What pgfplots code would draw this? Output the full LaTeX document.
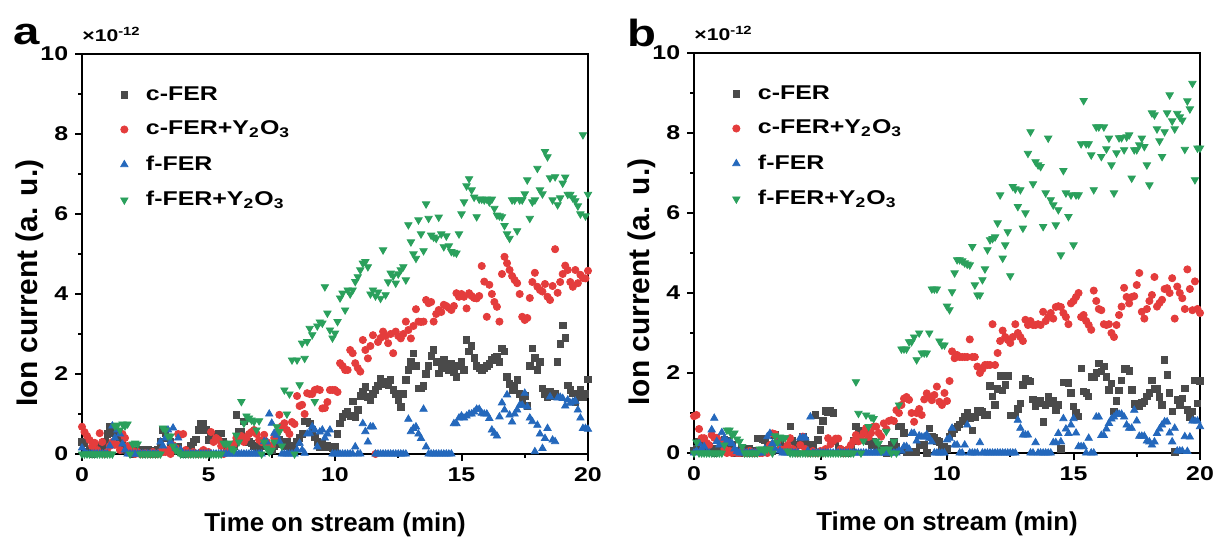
\documentclass[border=0pt]{standalone}
\usepackage{fontspec}
\setmainfont{Liberation Sans}
\usepackage{graphicx}
\usepackage{pgfplots}
\usepackage{pgfplotstable}
\pgfplotsset{compat=1.18}
\newcommand{\sx}[1]{\scalebox{1.25}[1]{#1}}
\definecolor{cgray}{RGB}{74,74,74}
\definecolor{cred}{RGB}{228,60,60}
\definecolor{cblue}{RGB}{36,104,188}
\definecolor{cgreen}{RGB}{42,160,92}

\pgfplotstableread{
t c cy f fy
0.0 0.3 0.68 0.15 0
0.1 0.28 0.55 0.05 0
0.2 0.06 0.45 0 0
0.3 0.1 0.35 0 0
0.4 0.0 0.2 0 0
0.5 0.05 0.28 0 0
0.6 0.1 0.1 0 0
0.7 0.2 0.52 0 0
0.8 0.15 0.3 0 0
0.9 0.3 0.0 0 0
1.0 0.5 0.05 0 0
1.1 0.68 0.2 0.2 0
1.2 0.52 0.3 0.7 0
1.3 0.6 0.23 0.4 0.7
1.4 0.45 0.23 0.6 0.72
1.5 0.43 0.1 0.5 0.6
1.6 0.3 0.5 0.25 0.75
1.7 0.1 0.4 0.1 0.7
1.8 0.05 0.2 0 0.75
1.9 0.1 0.08 0 0
2.0 0.0 0.08 0 0.25
2.1 0.05 0.0 0 0.27
2.2 0.08 0.05 0 0.25
2.3 0.1 0.0 0 0
2.4 0.08 0.0 0 0
2.5 0.05 0.02 0 0
2.6 0.1 0.0 0 0
2.7 0.08 0.0 0 0
2.8 0.0 0.05 0 0
2.9 0.05 0.0 0 0
3.0 0.1 0.0 0 0
3.1 0.3 0.05 0.3 0
3.2 0.6 0.05 0.2 0.65
3.3 0.52 0.05 0.4 0.6
3.4 0.39 0.1 0.6 0.45
3.5 0.3 0.0 0.3 0.45
3.6 0.1 0.22 0.65 0.2
3.7 0.18 0.15 0.15 0.1
3.8 0.18 0.5 0.4 0.05
3.9 0.05 0.48 0.1 0
4.0 0.0 0.5 0 0
4.1 0.05 0.1 0 0
4.2 0.1 0.0 0 0
4.3 0.2 0.0 0 0
4.4 0.3 0.05 0 0
4.5 0.37 0.0 0 0
4.6 0.6 0.0 0 0
4.7 0.77 0.05 0 0
4.8 0.77 0.1 0 0
4.9 0.6 0.0 0 0
5.0 0.35 0.05 0 0
5.1 0.43 0.55 0 0
5.2 0.45 0.3 0 0
5.3 0.47 0.4 0 0
5.4 0.52 0.35 0 0
5.5 0.52 0.2 0 0
5.6 0.3 0.0 0 0.27
5.7 0.18 0.05 0 0.25
5.8 0.1 0.1 0 0.27
5.9 0.15 0.2 0 0.14
6.0 0.2 0.25 0 0.1
6.1 0.98 0.4 0 0.47
6.2 0.55 0.35 0 0.3
6.3 0.55 0.45 0 1.31
6.4 0.81 0.3 0 0.77
6.5 0.39 0.4 0 0.95
6.6 0.3 0.5 0 0.9
6.7 0.27 0.55 0 0.85
6.8 0.2 0.6 0 0.81
6.9 0.15 0.5 0 0.6
7.0 0.18 0.35 0 0.83
7.1 0.2 0.3 0 0
7.2 0.3 0.48 0.31 0.3
7.3 0.25 0.3 0.3 0.15
7.4 0.15 0.2 1.0 0.05
7.5 0.1 0.2 0.77 0.1
7.6 0.2 0.4 0.52 0.3
7.7 0.3 0.5 0.47 0.68
7.8 0.35 0.98 0.31 0.56
7.9 0.25 0.7 0 0.2
8.0 0.2 0.77 0 1.6
8.1 0.31 0.6 0 1.0
8.2 0.15 0.5 0 1.5
8.3 0.1 0.8 0 2.35
8.4 0.2 0.75 0 0
8.5 0.3 1.45 0.1 2.35
8.6 0.4 1.2 0.27 1.73
8.7 0.5 1.23 0.1 2.77
8.8 0.81 1.0 0.02 2.39
8.9 0.81 1.52 0.5 2.81
9.0 0.77 1.5 0.52 3.14
9.1 0.6 1.5 0.68 2.98
9.2 0.43 1.6 0.6 1.31
9.3 0.3 1.62 0.18 3.2
9.4 0.18 1.6 0.55 3.3
9.5 0.25 1.14 0.6 3.27
9.6 0.18 1.15 0.4 4.18
9.7 0.2 1.3 0.5 3.52
9.8 0.18 1.6 0.6 3.1
9.9 0.15 1.6 0 2.9
10.0 0.18 1.6 0 3.02
10.1 0.5 1.55 0 3.31
10.2 0.76 2.27 0 3.9
10.3 0.93 2.2 0 4.02
10.4 1.0 2.1 0 3.6
10.5 1.06 2.1 0 4.1
10.6 0.95 2.6 0 4.0
10.7 1.31 2.52 0 4.1
10.8 0.93 2.27 0.18 4.31
10.9 1.1 2.15 0 4.43
11.0 1.45 2.06 0 4.6
11.1 1.55 2.85 0.76 4.77
11.2 1.68 2.6 0.56 4.81
11.3 1.43 2.39 0.3 4.68
11.4 1.35 2.7 0.68 4.0
11.5 1.5 2.97 0.68 4.1
11.6 1.6 0.0 0 3.95
11.7 1.7 2.8 0 4.05
11.8 1.89 2.9 0 3.89
11.9 1.75 3.06 0 5.1
12.0 1.8 2.95 0 3.98
12.1 1.72 2.77 0 4.3
12.2 1.85 3.0 0 4.52
12.3 1.6 2.52 0 4.45
12.4 1.5 3.06 0 4.27
12.5 1.35 2.95 0 4.5
12.6 1.18 2.89 0 4.6
12.7 1.5 3.0 0 4.68
12.8 1.85 3.31 0 4.35
12.9 2.1 3.1 0.87 5.73
13.0 2.3 2.89 0.56 5.3
13.1 2.52 3.2 0.64 5.0
13.2 2.2 3.62 0.68 4.89
13.3 1.64 3.31 0.5 5.85
13.4 1.64 3.3 0.39 5.5
13.5 1.7 3.31 1.12 5.08
13.6 2.0 3.85 0.18 6.25
13.7 2.2 3.77 0 5.89
13.8 2.45 3.8 0 5.47
13.9 2.6 3.31 0 5.42
14.0 2.3 3.5 0 5.39
14.1 2.02 3.6 0 5.92
14.2 2.15 3.55 0 5.5
14.3 2.35 3.73 0 5.18
14.4 2.2 3.7 0 5.45
14.5 2.1 3.65 0 5.2
14.6 2.25 3.6 0 5.06
14.7 2.05 3.7 0.76 5.04
14.8 1.93 4.02 0.76 5.02
14.9 2.2 3.93 0.9 5.5
15.0 2.3 4.0 0.95 6.0
15.1 2.1 3.93 0.9 6.3
15.2 2.85 3.64 0.95 6.7
15.3 2.56 4.02 1.0 6.88
15.4 2.7 3.95 1.0 6.6
15.5 2.4 3.9 1.05 6.42
15.6 2.2 3.89 1.12 5.93
15.7 2.15 3.95 1.12 6.37
15.8 2.1 4.7 1.02 6.37
15.9 2.15 4.31 1.0 6.35
16.0 2.2 3.43 1.0 6.37
16.1 2.25 4.23 0.89 6.3
16.2 2.35 4.0 0.6 6.37
16.3 2.4 3.8 0.52 6.14
16.4 2.43 3.68 0.45 5.97
16.5 2.3 3.31 0.93 5.95
16.6 2.64 4.5 1.28 5.93
16.7 2.56 4.93 1.1 5.71
16.8 1.93 4.77 1.48 5.5
16.9 1.75 4.6 0.975 5.39
17.0 1.6 4.45 0.8 6.35
17.1 1.7 4.35 1.0 6.35
17.2 1.85 4.27 1.1 5.58
17.3 1.5 4.0 1.22 6.35
17.4 1.31 3.43 1.22 6.35
17.5 1.45 3.35 1.52 6.5
17.6 1.2 3.4 1.18 6.85
17.7 2.2 3.9 0.9 5.89
17.8 2.64 4.3 0.81 6.3
17.9 2.4 4.53 0.06 6.35
18.0 2.1 4.18 0.72 7.14
18.1 2.3 4.1 0.5 6.6
18.2 1.64 4.06 0.14 6.5
18.3 1.5 4.25 0.39 7.56
18.4 1.43 3.93 0.64 7.43
18.5 1.55 3.85 1.43 6.9
18.6 1.45 4.2 0.35 6.35
18.7 1.5 5.12 0.31 6.93
18.8 2.3 4.03 1.4 6.23
18.9 2.75 4.3 1.42 6.4
19.0 3.22 4.5 1.39 6.77
19.1 2.9 4.71 1.2 6.92
19.2 1.72 4.6 1.35 6.49
19.3 1.6 4.3 1.27 6.49
19.4 1.52 4.18 1.3 6.4
19.5 1.3 4.6 1.32 6.33
19.6 1.43 4.27 1.1 6.2
19.7 1.6 4.48 0.9 6.0
19.8 1.43 4.4 0.64 7.98
19.9 1.5 4.39 0.64 5.95
20.0 1.87 4.58 0.62 6.49
}\dataA

\pgfplotstableread{
t c cy f fy
0.0 0.05 0.92 0 0
0.1 0.1 0.95 0.05 0.27
0.2 0.28 0.6 0.24 0
0.3 0.28 0.37 0.1 0
0.4 0.2 0.37 0.16 0
0.5 0.16 0.25 0 0
0.6 0.16 0.2 0 0
0.7 0.1 0.45 0.58 0
0.8 0.0 0.38 0.87 0
0.9 0.05 0.38 0.29 0
1.0 0.1 0.3 0.2 0
1.1 0.2 0.26 0.51 0
1.2 0.33 0.1 0.37 0.2
1.3 0.3 0.0 0.3 0.57
1.4 0.24 0.05 0.27 0.57
1.5 0.2 0.0 0.24 0.45
1.6 0.0 0.05 0.1 0.5
1.7 0.05 0.0 0.04 0.35
1.8 0.0 0.0 0 0.29
1.9 0.1 0.05 0 0.16
2.0 0.05 0 0 0
2.1 0.0 0 0 0
2.2 0.1 0.05 0 0
2.3 0.0 0 0 0
2.4 0.05 0 0 0
2.5 0.37 0.02 0 0
2.6 0.37 0 0 0.1
2.7 0.35 0 0 0.1
2.8 0.33 0.05 0.1 0.05
2.9 0.2 0 0.41 0.1
3.0 0.1 0.2 0.49 0.1
3.1 0.05 0.49 0.24 0
3.2 0.45 0.47 0.1 0.43
3.3 0.3 0.29 0.24 0.27
3.4 0.29 0.1 0.05 0.4
3.5 0.1 0.05 0 0.38
3.6 0.05 0.1 0 0.38
3.7 0.15 0.2 0 0.05
3.8 0.67 0.37 0 0
3.9 0.3 0.1 0 0
4.0 0.2 0.05 0 0
4.1 0.2 0.0 0 0
4.2 0.24 0.2 0.38 0
4.3 0.41 0.41 0.38 0
4.4 0.3 0.1 0.38 0
4.5 0.1 0.0 0.05 0
4.6 0.05 0.0 0.9 0
4.7 0.2 0.05 0 0
4.8 0.95 0.0 0 0
4.9 0.33 0.0 0 0
5.0 0.58 0.05 0 0
5.1 0.8 0.0 0 0
5.2 1.05 0.1 0 0
5.3 1.02 0.37 0 0
5.4 1.05 0.22 0 0
5.5 1.0 0.3 0 0
5.6 0.3 0.36 0 0
5.7 0.1 0.36 0 0
5.8 0.05 0.1 0 0
5.9 0.0 0.0 0 0
6.0 0.0 0.05 0 0
6.1 0.05 0.1 0 0
6.2 0.1 0.2 0 0
6.3 0.3 0.3 0 0
6.4 0.66 0.45 0 1.78
6.5 0.54 0.29 0 0.99
6.6 0.5 0.37 0 0
6.7 0.55 0.5 0 0.3
6.8 0.55 0.62 0 0.95
6.9 0.3 0.4 0 0.66
7.0 0.2 0.5 0 0.9
7.1 0.29 0.66 0 0.86
7.2 0.1 0.66 0 0.3
7.3 0.05 0.5 0 0.24
7.4 0.1 0.41 0 0.05
7.5 0.05 0.74 0 0.1
7.6 0.0 0.6 0 0.54
7.7 0.1 0.8 0 0.1
7.8 0.2 0.82 0 0
7.9 0.29 0.8 0 0.29
8.0 0.16 1.07 0 0
8.1 0.66 1.0 0.05 1.2
8.2 0.66 1.2 0.05 2.6
8.3 0.5 1.36 0.16 2.6
8.4 0.03 1.4 0.16 2.6
8.5 0.03 1.33 0.1 2.78
8.6 0.03 1.0 0.49 2.78
8.7 0.03 0.78 0.49 2.9
8.8 0.03 1.0 0.3 2.33
8.9 0.2 1.1 0.43 3.0
9.0 0.2 0.95 0.4 2.5
9.1 0.2 1.34 0.4 2.5
9.2 0.0 1.49 0.46 2.5
9.3 0.62 1.4 0.37 3.0
9.4 0.4 1.32 0.28 4.1
9.5 0.38 1.45 0 4.1
9.6 0.3 1.66 0 4.1
9.7 0.28 1.28 0 2.8
9.8 0.15 1.2 0 2.7
9.9 0.15 1.5 0 2.7
10.0 0.1 1.3 0.33 3.67
10.1 0.41 1.8 0.37 3.58
10.2 0.49 2.54 0.62 4.03
10.3 0.6 2.37 0.2 4.5
10.4 0.65 2.45 0.2 4.83
10.5 0.72 2.4 0 4.83
10.6 0.8 2.4 0 4.8
10.7 0.9 2.4 0.2 4.75
10.8 1.0 2.4 0.7 4.72
10.9 0.87 2.84 0 4.7
11.0 0.57 2.4 0 5.16
11.1 0.9 2.4 0 4.2
11.2 1.07 2.16 0 3.95
11.3 1.05 2.0 0.26 3.95
11.4 1.03 2.1 0 4.33
11.5 0.95 2.2 0 4.6
11.6 0.95 2.2 0 5.08
11.7 1.68 2.2 0 5.33
11.8 1.42 3.22 0 5.36
11.9 1.2 2.2 0 5.4
12.0 1.6 2.5 0 5.75
12.1 1.93 2.8 0 6.45
12.2 1.56 3.06 0 4.87
12.3 1.7 2.9 0 5.2
12.4 1.93 2.83 0 5.53
12.5 0.94 2.75 0 4.43
12.6 0.94 2.9 0 6.66
12.7 0.94 3.22 0 6.6
12.8 1.1 3.0 0.82 6.16
12.9 1.24 2.9 0.62 6.58
13.0 1.7 2.8 0.45 5.62
13.1 1.85 3.33 0.45 6.0
13.2 1.82 3.2 0.45 7.49
13.3 1.79 3.3 0 8.03
13.4 1.34 3.2 0 6.73
13.5 1.16 3.2 0.26 7.28
13.6 1.25 3.22 0 7.2
13.7 1.3 3.2 0 7.16
13.8 0.78 3.53 0 5.66
13.9 1.2 3.3 0 6.5
14.0 1.4 3.4 0 7.87
14.1 1.24 3.5 0 6.33
14.2 1.3 3.36 0.26 6.2
14.3 1.07 3.65 0.26 5.7
14.4 1.2 3.67 0.49 6.08
14.5 0.1 3.65 0.28 4.95
14.6 1.77 3.5 0.86 7.06
14.7 1.77 3.4 0.6 6.5
14.8 1.75 3.22 0.49 5.91
14.9 1.5 3.74 0.7 6.45
15.0 1.16 3.8 0.86 5.2
15.1 1.0 3.9 0.5 6.45
15.2 0.91 4.0 0.16 6.45
15.3 2.12 3.4 0.16 7.73
15.4 1.54 3.45 0.16 8.81
15.5 1.5 3.3 0 7.73
15.6 1.42 3.2 0.37 7.73
15.7 1.9 3.08 0 7.45
15.8 1.9 4.06 0 6.58
15.9 2.0 3.8 0.9 8.15
16.0 2.24 3.6 0.9 8.15
16.1 2.04 3.57 0.44 7.41
16.2 2.16 3.22 0.44 8.15
16.3 1.9 3.2 0.6 7.6
16.4 1.58 3.22 0.74 7.87
16.5 1.74 3.0 0.85 7.2
16.6 1.04 2.9 0.9 6.5
16.7 1.3 3.2 0.97 7.5
16.8 1.56 3.45 0.97 7.88
16.9 1.82 3.66 0.97 7.88
17.0 2.1 4.13 0.9 7.58
17.1 2.1 3.9 0.7 7.9
17.2 2.05 3.74 0.62 7.95
17.3 1.58 3.9 0.62 6.87
17.4 1.23 3.92 1.07 7.58
17.5 1.2 4.2 0.8 7.58
17.6 1.16 4.5 0.42 7.7
17.7 1.25 3.53 0.42 7.87
17.8 1.29 3.36 0.42 7.66
17.9 1.41 3.6 0.3 7.2
18.0 1.5 3.8 0.28 6.7
18.1 1.82 3.95 0.2 8.5
18.2 1.6 4.4 0.28 8.45
18.3 1.6 3.66 0.49 8.1
18.4 1.4 3.75 0.6 7.8
18.5 1.2 3.83 0.7 7.41
18.6 2.33 4.1 0.78 8.03
18.7 1.95 4.12 0.78 8.5
18.8 1.5 4.0 0.5 8.95
18.9 1.04 4.37 0.28 8.3
19.0 0.03 3.36 0.62 8.1
19.1 1.33 4.16 0.05 8.49
19.2 1.2 4.0 0.05 8.4
19.3 1.37 3.87 0.05 8.32
19.4 1.62 3.6 0.41 7.59
19.5 1.08 4.59 0.04 8.8
19.6 0.9 4.1 0.4 8.6
19.7 1.04 3.57 0.8 9.24
19.8 1.82 4.29 0.8 6.83
19.9 1.24 3.6 0.8 7.62
20.0 1.8 3.5 0.66 7.62
}\dataB

\pgfplotsset{
  panel/.style={
    scale only axis, width=253bp, height=200bp,
    xmin=0, xmax=20, ymin=0, ymax=10,
    clip=false,
    xtick={0,5,10,15,20},
    xticklabels={\sx{0},\sx{5},\sx{10},\sx{15},\sx{20}},
    minor xtick={2.5,7.5,12.5,17.5},
    ytick={0,2,4,6,8,10},
    yticklabels={\sx{0},\sx{2},\sx{4},\sx{6},\sx{8},\sx{10}},
    minor ytick={1,3,5,7,9},
    tick pos=left, tick align=outside,
    major tick length=3.4bp, minor tick length=1.8bp,
    axis line style={line width=1bp},
    every tick/.style={line width=1bp, black},
    tick label style={font=\fontsize{10}{12}\selectfont\bfseries},
    xlabel={Time on stream (min)},
    ylabel={Ion current (a. u.)},
    xlabel style={font=\fontsize{13}{15}\selectfont\bfseries, at={(axis description cs:0.5,-0.1775)}, anchor=center},
    ylabel style={font=\fontsize{15}{17}\selectfont\bfseries, at={(axis description cs:-0.103,0.4275)}, anchor=center},
    legend style={draw=none, fill=none, at={(axis description cs:0.0757,0.93)},
      anchor=north west, font=\fontsize{10}{12}\selectfont\bfseries,
      row sep=5bp, column sep=7bp, inner sep=0pt},
    legend cell align=left,
  },
  sc/.style={only marks, mark=square*, mark size=1.6bp, color=cgray},
  sr/.style={only marks, mark=*, mark size=1.8bp, color=cred},
  sb/.style={only marks, mark=triangle*, mark size=2.1bp, color=cblue},
  sg/.style={only marks, mark=triangle*, mark size=2.1bp, color=cgreen, mark options={rotate=180}},
}

\begin{document}
\begin{tikzpicture}
\useasboundingbox (0,0) rectangle (606.5bp,272bp);
\begin{axis}[panel, at={(41bp,45bp)}, anchor=south west]
\addplot[sc] table[x=t,y=c]{\dataA};
\addlegendentry{\sx{c-FER}}
\addplot[sr] table[x=t,y=cy]{\dataA};
\addlegendentry{\sx{c-FER+Y\textsubscript{2}O\textsubscript{3}}}
\addplot[sb] table[x=t,y=f]{\dataA};
\addlegendentry{\sx{f-FER}}
\addplot[sg] table[x=t,y=fy]{\dataA};
\addlegendentry{\sx{f-FER+Y\textsubscript{2}O\textsubscript{3}}}
\node[anchor=base west, inner sep=0pt, font=\fontsize{8.5}{10}\selectfont\bfseries] at (axis description cs:0,1.031) {\sx{×10\textsuperscript{-12}}};
\node[anchor=base west, inner sep=0pt, font=\fontsize{19}{22}\selectfont\bfseries] at (axis description cs:-0.136,1.0225) {\sx{a}};
\end{axis}
\begin{axis}[panel, at={(347bp,45.5bp)}, anchor=south west]
\addplot[sc] table[x=t,y=c]{\dataB};
\addlegendentry{\sx{c-FER}}
\addplot[sr] table[x=t,y=cy]{\dataB};
\addlegendentry{\sx{c-FER+Y\textsubscript{2}O\textsubscript{3}}}
\addplot[sb] table[x=t,y=f]{\dataB};
\addlegendentry{\sx{f-FER}}
\addplot[sg] table[x=t,y=fy]{\dataB};
\addlegendentry{\sx{f-FER+Y\textsubscript{2}O\textsubscript{3}}}
\node[anchor=base west, inner sep=0pt, font=\fontsize{8.5}{10}\selectfont\bfseries] at (axis description cs:0,1.031) {\sx{×10\textsuperscript{-12}}};
\node[anchor=base west, inner sep=0pt, font=\fontsize{19}{22}\selectfont\bfseries] at (axis description cs:-0.132,1.015) {\sx{b}};
\end{axis}
\end{tikzpicture}
\end{document}
